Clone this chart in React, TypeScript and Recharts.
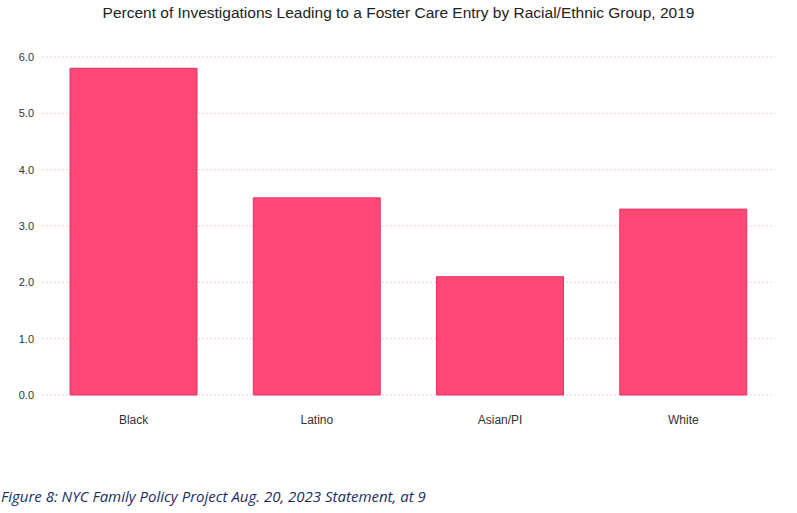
import { BarChart, Bar, XAxis, YAxis, CartesianGrid } from 'recharts';

const groups = ['Black', 'Latino', 'Asian/PI', 'White'];
const percents = [5.8, 3.5, 2.1, 3.3];
const yTicks = [0, 1, 2, 3, 4, 5, 6];

const data = groups.map((group, i) => ({ group, percent: percents[i] }));

const FONT = '"Liberation Sans", Arial, sans-serif';

export default function App() {
  return (
    <div
      style={{
        position: 'absolute',
        top: 0,
        left: 0,
        width: 797,
        height: 513,
        background: '#fff',
        overflow: 'hidden',
      }}
    >
      <div
        style={{
          position: 'absolute',
          top: 4,
          left: 0,
          width: 797,
          textAlign: 'center',
          fontFamily: FONT,
          fontSize: 15.5,
          color: '#222',
        }}
      >
        Percent of Investigations Leading to a Foster Care Entry by Racial/Ethnic Group, 2019
      </div>
      <BarChart
        width={797}
        height={513}
        data={data}
        margin={{ top: 57, right: 22, left: 0, bottom: 78 }}
        barCategoryGap={28}
      >
        <CartesianGrid vertical={false} stroke="#f6c9dd" strokeDasharray="2 2" />
        <XAxis
          dataKey="group"
          axisLine={false}
          tickLine={false}
          tickSize={0}
          tickMargin={20}
          height={40}
          tick={{ fontSize: 12, fill: '#333', fontFamily: FONT }}
        />
        <YAxis
          domain={[0, 6]}
          ticks={yTicks}
          tickFormatter={(v: number) => v.toFixed(1)}
          axisLine={false}
          tickLine={false}
          tickSize={0}
          tickMargin={8}
          width={42}
          tick={{ fontSize: 11, fill: '#333', fontFamily: FONT }}
        />
        <Bar
          dataKey="percent"
          fill="#ff4876"
          stroke="#e6336a"
          strokeWidth={1}
          isAnimationActive={false}
        />
      </BarChart>
      <div
        style={{
          position: 'absolute',
          top: 486,
          left: 1,
          fontFamily: '"Open Sans", sans-serif',
          fontStyle: 'italic',
          fontSize: 15,
          color: '#1b2d63',
          whiteSpace: 'nowrap',
        }}
      >
        Figure 8: NYC Family Policy Project Aug. 20, 2023 Statement, at 9
      </div>
    </div>
  );
}
